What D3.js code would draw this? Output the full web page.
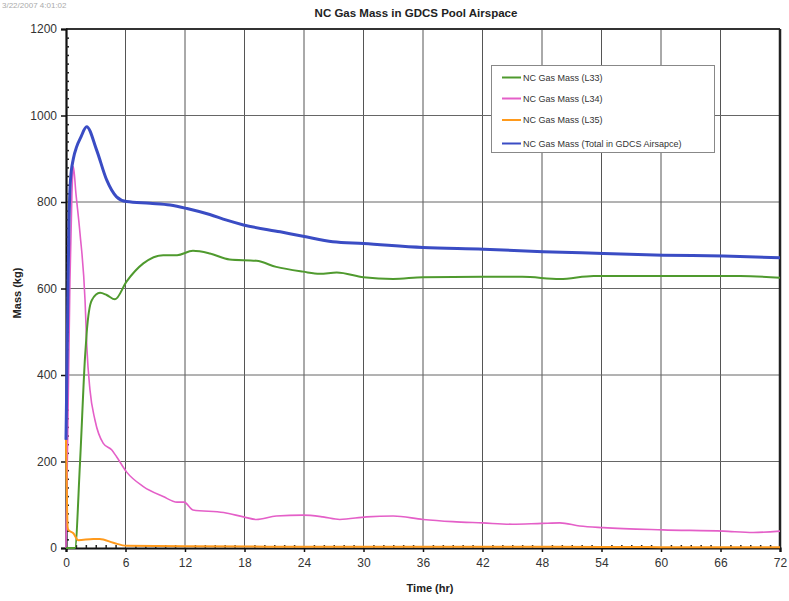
<!DOCTYPE html>
<html><head><meta charset="utf-8">
<script src="https://cdn.jsdelivr.net/npm/d3@7"></script>
<style>body{margin:0;background:#fff}svg{display:block}text{font-family:"Liberation Sans",Arial,sans-serif}</style>
</head><body>
<svg id="chart" width="789" height="601"></svg>
<script>
const xTicks = [0,6,12,18,24,30,36,42,48,54,60,66,72];
const yTicks = [0,200,400,600,800,1000,1200];

const l33T = [0,0.9,1.41,1.92,2.08,2.6,3.43,4.1,4.94,6.1,7.8,9.8,11.2,12.8,14.5,16.5,19.2,21.2,23.9,25.6,27.3,30,33,36,42,46,49.8,53.2,60,68,72];
const l33V = [0,0,196,442,496,573,590,585,575,616,658,677,677,687,681,667,664,650,639,634,637,626,622,626,627,627,622,629,629,629,625];

const l34T = [0,0.2,0.4,0.6,0.74,1.0,1.41,1.92,2.1,2.42,2.92,3.76,4.6,5.1,6.1,7.8,9.8,11.2,11.9,12.8,15.9,17.9,19.2,21.2,23.9,25.9,27.6,30.3,33,36,39,42,45,48,49.8,51.8,54.2,60.2,66.3,69.3,72];
const l34V = [0,300,620,820,882,820,728,573,465,365,296,242,227,211,176,142,119,106,106,88,82,72,66,74,76,72,66,72,74,66,61,58,55,57,58,51,47,42,39,36,39];

const l35T = [0,0.07,0.16,0.23,0.74,1.24,2.75,3.4,4.77,6.1,12,24,36,48,60,72];
const l35V = [250,150,49,42,34,18,21,21,12,5,4,3,3,3,2,2];

const totT = [0,0.1,0.2,0.3,0.45,0.74,1.08,1.5,2.08,3.09,4.1,5.1,6.1,8.47,10.5,12.2,14.5,16.2,17.9,21.6,23.9,26.9,30,36,42.1,48.1,54.2,60.2,66.3,72];
const totV = [250,420,600,750,850,900,928,950,974,920,851,812,801,797,793,785,771,758,747,731,721,708,704,695,691,685,681,677,675,671];

const seriesNames = ["NC Gas Mass (L33)","NC Gas Mass (L34)","NC Gas Mass (L35)","NC Gas Mass (Total in GDCS Airsapce)"];
const seriesColors = ["#4f9a2e","#e45fc8","#ff9a1c","#3a4cc4"];
const seriesWidths = [2,1.6,2,3];

const svg = d3.select("#chart");
const x = d3.scaleLinear().domain([0,72]).range([66,780]);
const y = d3.scaleLinear().domain([0,1200]).range([548,29]);

// date stamp
svg.append("text").attr("x",2).attr("y",8).attr("font-size",8).attr("fill","#aaa").text("3/22/2007 4:01:02");

// title
svg.append("text").attr("x",416).attr("y",17).attr("text-anchor","middle")
  .attr("font-size",11.5).attr("font-weight","bold").attr("fill","#222").text("NC Gas Mass in GDCS Pool Airspace");

// grid
const g = svg.append("g");
g.selectAll(".vg").data(xTicks.slice(1,-1)).join("line")
  .attr("x1",d=>x(d)).attr("x2",d=>x(d)).attr("y1",y(1200)).attr("y2",y(0))
  .attr("stroke","#555").attr("stroke-width",1);
g.selectAll(".hg").data(yTicks.slice(1,-1)).join("line")
  .attr("x1",x(0)).attr("x2",x(72)).attr("y1",d=>y(d)).attr("y2",d=>y(d))
  .attr("stroke","#666").attr("stroke-width",1);

// frame: top and right
svg.append("line").attr("x1",x(0)).attr("x2",x(72)).attr("y1",y(1200)).attr("y2",y(1200)).attr("stroke","#333").attr("stroke-width",2);
svg.append("line").attr("x1",x(72)).attr("x2",x(72)).attr("y1",y(1200)).attr("y2",y(0)).attr("stroke","#222").attr("stroke-width",2.5);

// axes
const xAxis = d3.axisBottom(x).tickValues(xTicks).tickSize(4).tickPadding(6).tickFormat(d3.format("d"));
const yAxis = d3.axisLeft(y).tickValues(yTicks).tickSize(5).tickPadding(4).tickFormat(d3.format("d"));
const gx = svg.append("g").attr("transform",`translate(0,${y(0)})`).call(xAxis);
const gy = svg.append("g").attr("transform",`translate(${x(0)},0)`).call(yAxis);
[gx,gy].forEach(a=>{
  a.select(".domain").attr("stroke","#111").attr("stroke-width",2.2);
  a.selectAll(".tick line").attr("stroke","#111").attr("stroke-width",1.5);
  a.selectAll(".tick text").attr("font-size",12).attr("fill","#333").attr("font-family","Liberation Sans, Arial, sans-serif");
});
// minor ticks (inward)
const xMinor = d3.range(1,72).filter(v=>v%6!==0);
const yMinor = d3.range(20,1200,20).filter(v=>v%200!==0);
svg.append("g").call(d3.axisTop(x).tickValues(xMinor).tickSize(3).tickFormat(""))
  .attr("transform",`translate(0,${y(0)})`).call(a=>{a.select(".domain").remove();a.selectAll("line").attr("stroke","#222").attr("stroke-width",1.5);});
svg.append("g").call(d3.axisRight(y).tickValues(yMinor).tickSize(3).tickFormat(""))
  .attr("transform",`translate(${x(0)},0)`).call(a=>{a.select(".domain").remove();a.selectAll("line").attr("stroke","#222").attr("stroke-width",1.5);});

// series (drawn over the axes)
const line = d3.line().x(d=>x(d[0])).y(d=>y(d[1])).curve(d3.curveMonotoneX);
const data = [[l33T,l33V],[l34T,l34V],[l35T,l35V],[totT,totV]];
const order = [1,0,3,2];
order.forEach(i=>{
  const pts = data[i][0].map((t,k)=>[t,data[i][1][k]]);
  svg.append("path").datum(pts).attr("d",line).attr("fill","none")
    .attr("stroke",seriesColors[i]).attr("stroke-width",seriesWidths[i]).attr("stroke-linejoin","round");
});

// axis titles
svg.append("text").attr("x",430).attr("y",592).attr("text-anchor","middle").attr("font-size",11).attr("font-weight","bold").attr("fill","#222").text("Time (hr)");
svg.append("text").attr("transform","translate(21,293) rotate(-90)").attr("text-anchor","middle").attr("font-size",11).attr("font-weight","bold").attr("fill","#222").text("Mass (kg)");

// legend
const lg = svg.append("g");
lg.append("rect").attr("x",491.5).attr("y",65.5).attr("width",223).attr("height",87).attr("fill","#fff").attr("stroke","#888");
const ly = [77.5,98.5,120,143.5];
seriesNames.forEach((n,i)=>{
  lg.append("line").attr("x1",502).attr("x2",521).attr("y1",ly[i]).attr("y2",ly[i]).attr("stroke",seriesColors[i]).attr("stroke-width",2);
  lg.append("text").attr("x",523).attr("y",ly[i]).attr("dy","0.35em").attr("font-size",9).attr("fill","#333").text(n);
});
</script>
</body></html>
